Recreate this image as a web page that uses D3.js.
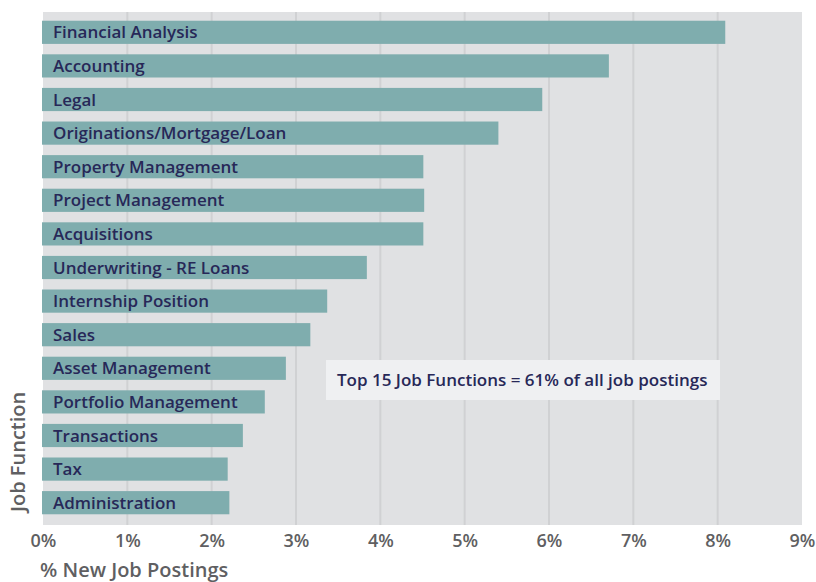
<!DOCTYPE html>
<html><head><meta charset="utf-8">
<script src="https://cdn.jsdelivr.net/npm/d3@7"></script>
<style>
html,body{margin:0;padding:0;background:#fff;}
svg text{font-family:"Open Sans","DejaVu Sans",sans-serif;}
</style></head>
<body><svg id="c" width="816" height="582"></svg>
<script>
const categories = ["Financial Analysis","Accounting","Legal","Originations/Mortgage/Loan","Property Management","Project Management","Acquisitions","Underwriting - RE Loans","Internship Position","Sales","Asset Management","Portfolio Management","Transactions","Tax","Administration"];
const values = [8.09,6.71,5.92,5.40,4.51,4.52,4.51,3.84,3.37,3.17,2.88,2.63,2.37,2.19,2.21];
const tickValues = [0,1,2,3,4,5,6,7,8,9];
const tickLabels = ["0%","1%","2%","3%","4%","5%","6%","7%","8%","9%"];
const annotation = "Top 15 Job Functions = 61% of all job postings";

const svg = d3.select("#c");
const L=43, R=802, T=12, B=525;
const x = d3.scaleLinear().domain([0,9]).range([L,R]);
const y = d3.scaleBand().domain(categories).range([T+2,B-4]).paddingInner(0.31).paddingOuter(0.2);

svg.append("rect").attr("x",L).attr("y",T).attr("width",R-L).attr("height",B-T).attr("fill","#e0e1e3");
svg.append("g").selectAll("line").data(tickValues.slice(1,-1)).join("line")
  .attr("x1",d=>x(d)).attr("x2",d=>x(d)).attr("y1",T).attr("y2",B)
  .attr("stroke","#d0d1d3").attr("stroke-width",2);

svg.append("g").selectAll("rect").data(categories).join("rect")
  .attr("x",x(0)-1).attr("y",d=>y(d)).attr("height",y.bandwidth())
  .attr("width",(d,i)=>x(values[i])-x(0)+1).attr("fill","#7fadae");

svg.append("g").selectAll("text").data(categories).join("text")
  .attr("x",53).attr("y",d=>y(d)+y.bandwidth()/2).attr("dy","0.36em")
  .attr("fill","#272858").attr("font-size",17).attr("font-weight",600)
  .text(d=>d);

// annotation
svg.append("rect").attr("x",326).attr("y",360).attr("width",394).attr("height",40).attr("fill","#eff0f2");
svg.append("text").attr("x",337).attr("y",380).attr("dy","0.36em")
  .attr("fill","#272858").attr("font-size",17).attr("font-weight",600).text(annotation);

// x axis
const ax = d3.axisBottom(x).tickValues(tickValues).tickFormat((d,i)=>tickLabels[i]).tickSize(0).tickPadding(0);
const g = svg.append("g").attr("transform",`translate(0,${B})`).call(ax);
g.select(".domain").remove();
g.selectAll("text").attr("y",16).attr("dy","0.36em").attr("font-size",18).attr("font-weight",600)
  .attr("fill","#5f5f62").style("font-family","'Open Sans',sans-serif");

svg.append("text").attr("x",40).attr("y",570).attr("dy","0.36em")
  .attr("fill","#5f5f62").attr("font-size",20).attr("font-weight",600).text("% New Job Postings");
svg.append("text").attr("transform","translate(18,512) rotate(-90)").attr("dy","0.36em")
  .attr("fill","#5f5f62").attr("font-size",20).attr("font-weight",600).text("Job Function");
</script></body></html>
